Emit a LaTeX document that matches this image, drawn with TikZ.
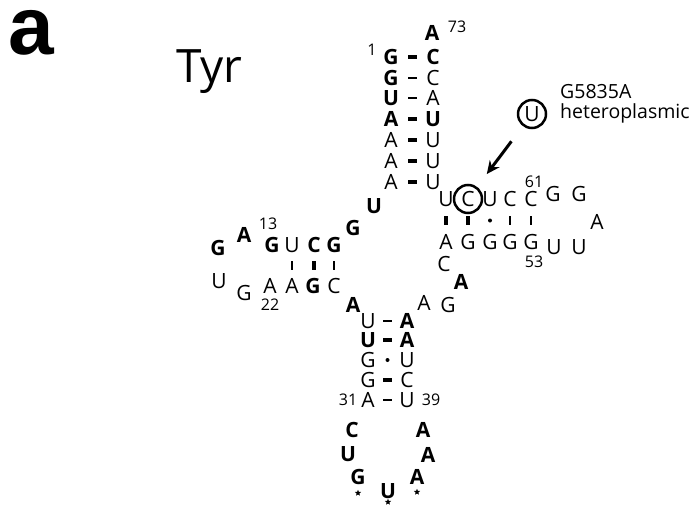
\documentclass[tikz,border=0pt]{standalone}
\usepackage{fontspec}
\setmainfont{Open Sans}
\newfontfamily\panelfont{Liberation Sans}
\usetikzlibrary{arrows.meta,shapes.geometric}

\tikzset{
  nt/.style={inner sep=0pt, text height=15pt, text depth=0pt, font=\fontsize{21}{21}\selectfont},
  ntb/.style={nt, font=\fontsize{21}{21}\selectfont\bfseries},
  num/.style={inner sep=0pt, text height=11.4pt, text depth=0pt, font=\fontsize{16}{16}\selectfont},
  hthin/.style={fill, inner sep=0pt, minimum width=9pt, minimum height=1.7pt},
  hbold/.style={fill, inner sep=0pt, minimum width=9pt, minimum height=4pt},
  vthin/.style={fill, inner sep=0pt, minimum width=2pt, minimum height=9pt},
  vbold/.style={fill, inner sep=0pt, minimum width=4pt, minimum height=9pt},
  gu/.style={fill, circle, inner sep=0pt, minimum size=4pt},
  ring/.style={circle, draw, line width=2.5pt, minimum size=28pt, inner sep=0pt},
  anticodon/.style={star, star points=5, star point ratio=2.2, fill, inner sep=0pt, minimum size=6.5pt},
  pointer/.style={-{Stealth[length=13pt,width=12pt]}, line width=3pt, shorten <=19pt, shorten >=16pt},
}

\begin{document}
\begin{tikzpicture}[x=1pt,y=-1pt]
    \useasboundingbox (0,0) rectangle (690,506);

    % Panel letter and tRNA name
    \node[anchor=south west, inner sep=0pt, text height=42pt, text depth=0pt,
          font=\panelfont\fontsize{82}{82}\selectfont\bfseries] (panel) at (8,55) {a};
    \node[anchor=base west, inner sep=0pt, font=\fontsize{46}{46}\selectfont] (trna) at (176,82) {Tyr};

    % Acceptor stem
    \foreach \nm/\x/\y/\t/\s in {n1/391/57/G/ntb, n2/391/78/G/ntb, n3/391/98/U/ntb, n4/391/119/A/ntb,
        n5/391/140/A/nt, n6/391/161/A/nt, n7/391/182/A/nt,
        n72/433/57/C/ntb, n71/433/78/C/nt, n70/433/98/A/nt, n69/433/119/U/ntb,
        n68/433/140/U/nt, n67/433/161/U/nt, n66/433/182/U/nt, n73/432/33/A/ntb} {
        \node[\s] (\nm) at (\x,\y) {\t};
    }
    \node[num] (l1) at (372,50) {1};
    \node[num] (l73) at (457,27) {73};

    % Junction and D arm
    \foreach \nm/\x/\y/\t/\s in {n8/374/206/U/ntb, n9/353/228/G/ntb,
        n10/334/245/G/ntb, n11/314/245/C/ntb, n12/292/245/U/nt, n13/272/245/G/ntb,
        d1/244/235/A/ntb, d2/218/248/G/ntb, d3/219/281/U/nt, d4/244/293/G/nt,
        n22/270/286/A/nt, n23/292/286/A/nt, n24/313/286/G/ntb, n25/334/286/C/nt,
        n26/353/305/A/ntb} {
        \node[\s] (\nm) at (\x,\y) {\t};
    }
    \node[num] (l13) at (268,224) {13};
    \node[num] (l22) at (270,305) {22};

    % Anticodon arm
    \foreach \nm/\x/\y/\t/\s in {n27/368/321/U/nt, n28/368/340/U/ntb, n29/368/360/G/nt,
        n30/368/380/G/nt, n31/368/400/A/nt,
        n43/407/321/A/ntb, n42/407/340/A/ntb, n41/407/360/U/nt, n40/407/380/C/nt, n39/407/400/U/nt,
        n32/352/430/C/ntb, n33/348/454/U/ntb, n34/358/477/G/ntb, n35/388/491/U/ntb,
        n36/417/477/A/ntb, n37/428/455/A/ntb, n38/423/430/A/ntb} {
        \node[\s] (\nm) at (\x,\y) {\t};
    }
    \node[num] (l31) at (348,400) {31};
    \node[num] (l39) at (431,400) {39};
    \foreach \nm/\x/\y in {s34/358/493, s35/388/502, s36/417/492} {
        \node[anticodon] (\nm) at (\x,\y) {};
    }

    % Variable loop and T arm
    \foreach \nm/\x/\y/\t/\s in {v1/424/303/A/nt, v2/448/305/G/nt, v3/461/282/A/ntb, v4/444/264/C/nt,
        n49/446/242/A/nt, n50/468/242/G/nt, n51/490/242/G/nt, n52/510/242/G/nt, n53/531/242/G/nt,
        n65/446/199/U/nt, n64/468/199/C/nt, n63/490/199/U/nt, n62/510/199/C/nt, n61/531/199/C/nt,
        t1/554/247/U/nt, t2/579/247/U/nt, t3/597/222/A/nt, t4/579/194/G/nt, t5/553/194/G/nt} {
        \node[\s] (\nm) at (\x,\y) {\t};
    }
    \node[num] (l61) at (534,182) {61};
    \node[num] (l53) at (534,262) {53};

    % Base pairs
    \foreach \a/\b/\s in {n1/n72/hbold, n2/n71/hthin, n3/n70/hthin, n4/n69/hbold,
        n5/n68/hbold, n6/n67/hbold, n7/n66/hbold,
        n12/n23/vthin, n11/n24/vbold, n10/n25/vthin,
        n27/n43/hthin, n28/n42/hbold, n29/n41/gu, n30/n40/hbold, n31/n39/hthin,
        n65/n49/vbold, n64/n50/vbold, n63/n51/gu, n62/n52/vthin, n61/n53/vthin} {
        \path (\a.center) -- node[\s] (bp\a) {} (\b.center);
    }

    % Heteroplasmic mutation
    \node[ring] (ring64) at (n64) {};
    \node[nt, ring] (mut) at (532,114) {U};
    \node[anchor=base west, inner sep=0pt, font=\fontsize{19.5}{19.5}\selectfont] (mutname) at (560,98) {G5835A};
    \node[anchor=base west, inner sep=0pt, font=\fontsize{19.5}{19.5}\selectfont] (mutkind) at (560,118) {heteroplasmic};
    \draw[pointer] (mut) -- (ring64);

\end{tikzpicture}
\end{document}
